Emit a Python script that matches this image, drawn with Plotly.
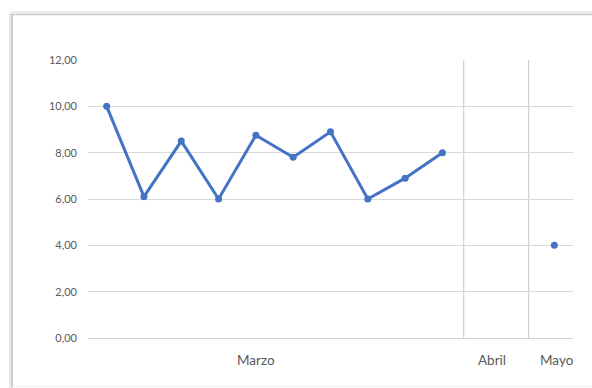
import plotly.graph_objects as go

# Values per month (one reading per session slot)
marzo_vals = [10.0, 6.1, 8.5, 6.0, 8.75, 7.8, 8.9, 6.0, 6.9, 8.0]
abril_vals = []
mayo_vals = [4.0]

# Slot positions on the horizontal axis (one unit per slot)
marzo_pos = [0.5 + i for i in range(len(marzo_vals))]
mayo_pos = [12.5]

# Month group labels and the boundaries between groups
month_names = ["Marzo", "Abril", "Mayo"]
month_label_pos = [4.5, 10.83, 12.58]
group_bounds = [10.07, 11.81]

x_range = [0, 13]
y_ticks = [0, 2, 4, 6, 8, 10, 12]

BLUE = "#4472C4"
GRID = "#d9d9d9"
TEXT = "#595959"
FONT = "Lato, 'Liberation Sans', Arial, sans-serif"

x_all = marzo_pos + [None] + mayo_pos
y_all = marzo_vals + [None] + mayo_vals

fig = go.Figure()
fig.add_trace(go.Scatter(
    x=x_all, y=y_all, mode="lines+markers",
    line=dict(color=BLUE, width=3),
    marker=dict(color=BLUE, size=7),
    connectgaps=False, showlegend=False, hoverinfo="y",
))

L, R, W, H = 88.35, 572.7, 592, 388
pw = R - L
ph = 338.3 - 60.0


def px_x(p):
    return (p - L) / pw


def px_y(p):
    return (338.3 - p) / ph


def edge(x0, y0, x1, y1, color, width):
    return dict(type="line", xref="paper", yref="paper",
                x0=px_x(x0), x1=px_x(x1), y0=px_y(y0), y1=px_y(y1),
                line=dict(color=color, width=width), layer="below")


shapes = [
    # chart area frame: soft shadow, then the border itself
    edge(10.5, 13, 10.5, 388, "#e8e8e8", 2.5),
    edge(11, 12.5, 592, 12.5, "#e8e8e8", 2.5),
    edge(12.5, 14, 12.5, 388, "#bdbdbd", 1.5),
    edge(12, 14.5, 592, 14.5, "#c8c8c8", 1.2),
    edge(12, 387, 592, 387, "#ececec", 1),
]
# group separators between months
for b in group_bounds:
    shapes.append(dict(type="line", xref="x", yref="y", x0=b, x1=b,
                       y0=0, y1=12, line=dict(color="#d0d0d0", width=1.2),
                       layer="below"))

annotations = [
    dict(x=p, y=px_y(360), xref="x", yref="paper", text=t, showarrow=False,
         font=dict(family=FONT, size=13.5, color=TEXT), xanchor="center",
         yanchor="middle")
    for p, t in zip(month_label_pos, month_names)
]

fig.update_layout(
    width=W, height=H,
    margin=dict(l=L, r=W - R, t=60, b=H - 338.3),
    paper_bgcolor="white", plot_bgcolor="white",
    separators=",.",
    shapes=shapes, annotations=annotations,
    font=dict(family=FONT, size=11, color=TEXT),
    xaxis=dict(range=x_range, showgrid=False, showticklabels=False,
               zeroline=False, showline=False, ticks=""),
    yaxis=dict(range=[0, 12], tickvals=y_ticks, tickformat=".2f",
               showgrid=True, gridcolor=GRID, gridwidth=1.2,
               zeroline=True, zerolinecolor="#d0d0d0", zerolinewidth=1.2,
               showline=False, ticks="", ticklabelstandoff=10,
               tickfont=dict(family=FONT, size=11, color=TEXT)),
)

fig.write_html("out.html")
